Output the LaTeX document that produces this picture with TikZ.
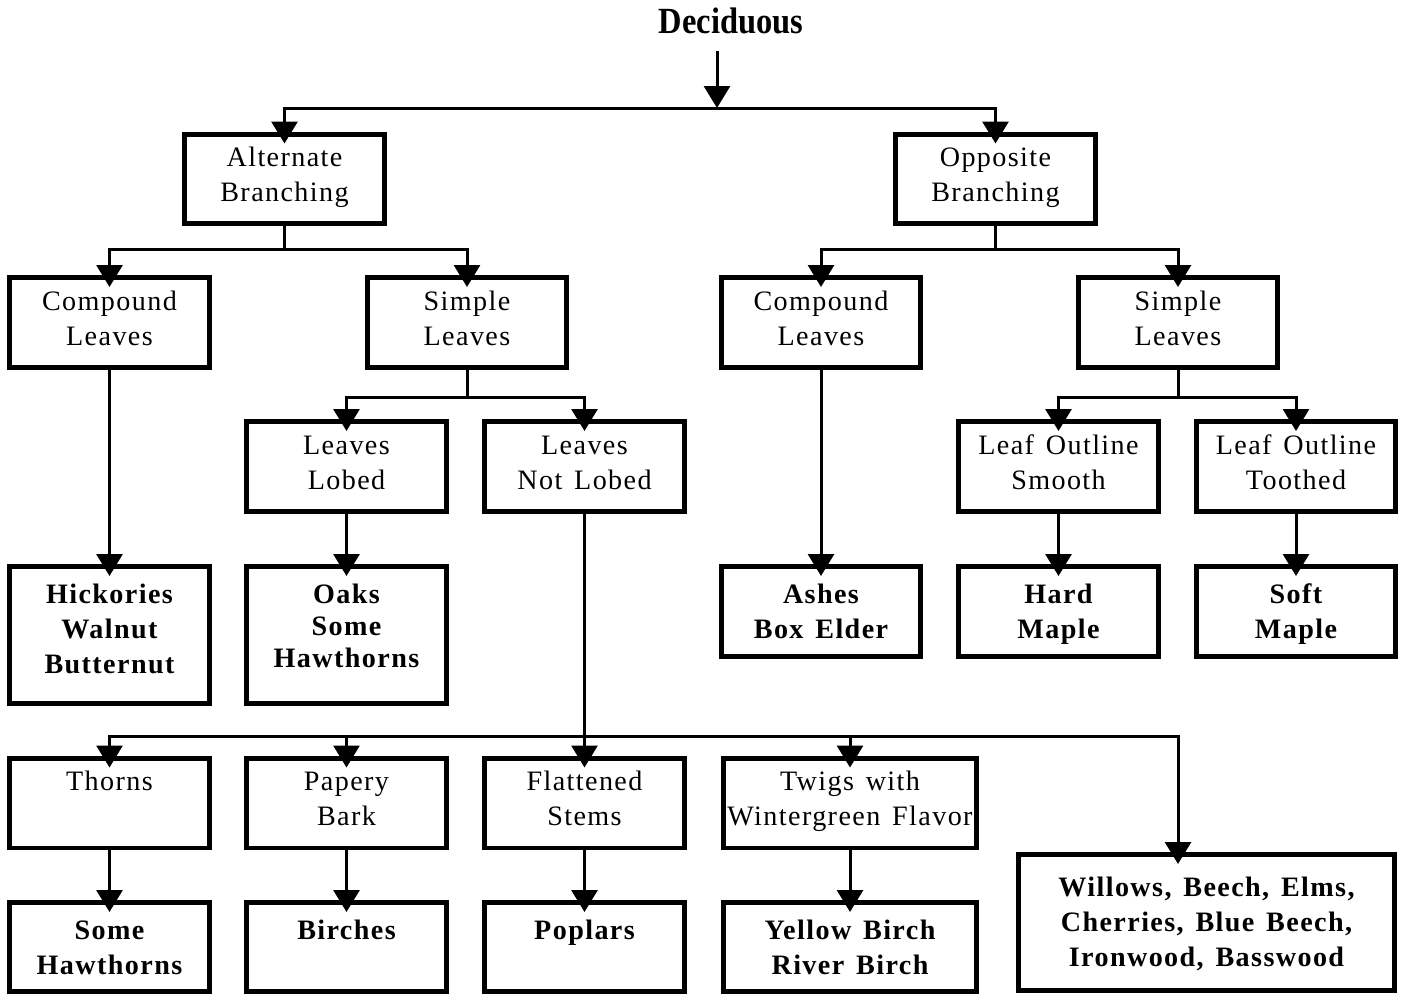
\documentclass[tikz,border=0pt]{standalone}
\usepackage{fontspec}
\usepackage{graphicx}
\setmainfont{Liberation Serif}
\newfontfamily\treefont[LetterSpace=5,WordSpace=1.4]{Liberation Serif}
\usetikzlibrary{arrows.meta}

% box contents: width, height, text (first line at a fixed depth)
\newcommand{\treebox}[3]{\parbox[t][#2][t]{#1}{\centering\rule{0pt}{0.65cm}#3}}
\newcommand{\namebox}[3]{\parbox[t][#2][t]{#1}{\centering\bfseries\rule{0pt}{0.74cm}#3}}

\tikzset{
  cell/.style={draw, line width=0.1cm, inner sep=0pt,
    font={\treefont\fontsize{16pt}{20pt}\selectfont}},
  link/.style={line width=0.06cm},
  arr/.style={link, -{Triangle[width=0.52cm,length=0.44cm]}, shorten >=-0.24cm},
}

\begin{document}
\begin{tikzpicture}[x=0.02cm, y=-0.02cm]
    \useasboundingbox (0,0) rectangle (1404,994);

    % title
    \node[font={\bfseries\fontsize{21pt}{24pt}\selectfont}, inner sep=0pt, anchor=base] (dec) at (731,33) {\scalebox{0.88}[1]{Deciduous}};
    \coordinate (top) at (717,108);

    % branching
    \node[cell] (alt) at (284.5,179) {\treebox{4cm}{1.8cm}{Alternate\\Branching}};
    \node[cell] (opp) at (995.5,179) {\treebox{4cm}{1.8cm}{Opposite\\Branching}};

    % leaves
    \node[cell] (cl) at (109.5,322.5) {\treebox{4cm}{1.8cm}{Compound\\Leaves}};
    \node[cell] (sl) at (467,322.5) {\treebox{4cm}{1.8cm}{Simple\\Leaves}};
    \node[cell] (cr) at (821,322.5) {\treebox{4cm}{1.8cm}{Compound\\Leaves}};
    \node[cell] (sr) at (1178,322.5) {\treebox{4cm}{1.8cm}{Simple\\Leaves}};

    % lobes and outlines
    \node[cell] (ll) at (346.5,466.5) {\treebox{4cm}{1.8cm}{Leaves\\Lobed}};
    \node[cell] (nl) at (584.5,466.5) {\treebox{4cm}{1.8cm}{Leaves\\Not Lobed}};
    \node[cell] (os) at (1058.5,466.5) {\treebox{4cm}{1.8cm}{Leaf Outline\\Smooth}};
    \node[cell] (ot) at (1296,466.5) {\treebox{4cm}{1.8cm}{Leaf Outline\\Toothed}};

    % trees
    \node[cell] (hi) at (109.5,635) {\namebox{4cm}{2.74cm}{Hickories\\Walnut\\Butternut}};
    \node[cell] (oa) at (346.5,635) {\namebox{4cm}{2.74cm}{Oaks\\[-1.7pt]Some\\[-1.7pt]Hawthorns}};
    \node[cell] (as) at (821,611.5) {\namebox{4cm}{1.8cm}{Ashes\\Box Elder}};
    \node[cell] (hm) at (1058.5,611.5) {\namebox{4cm}{1.8cm}{Hard\\Maple}};
    \node[cell] (sm) at (1296,611.5) {\namebox{4cm}{1.8cm}{Soft\\Maple}};

    % features
    \node[cell] (th) at (109.5,803) {\treebox{4cm}{1.8cm}{Thorns}};
    \node[cell] (pb) at (346.5,803) {\treebox{4cm}{1.8cm}{Papery\\Bark}};
    \node[cell] (fs) at (584.5,803) {\treebox{4cm}{1.8cm}{Flattened\\Stems}};
    \node[cell] (tw) at (850,803) {\treebox{5.06cm}{1.8cm}{Twigs with\\Wintergreen Flavor}};

    % trees
    \node[cell] (sh) at (109.5,947) {\namebox{4cm}{1.78cm}{Some\\Hawthorns}};
    \node[cell] (bi) at (346.5,947) {\namebox{4cm}{1.78cm}{Birches}};
    \node[cell] (po) at (584.5,947) {\namebox{4cm}{1.78cm}{Poplars}};
    \node[cell] (yb) at (850,947) {\namebox{5.06cm}{1.78cm}{Yellow Birch\\River Birch}};
    \node[cell] (wi) at (1206.5,922.5) {\namebox{7.52cm}{2.72cm}{\rule{0pt}{0.84cm}Willows, Beech, Elms,\\Cherries, Blue Beech,\\Ironwood, Basswood}};

    % connectors
    \draw[arr, shorten >=0pt, shorten <=0.34cm] (dec.south -| top) -- (top);
    \draw[arr] (top) -| (alt.north);
    \draw[arr] (top) -| (opp.north);

    \draw[arr] (alt.south) -- ++(0,23) coordinate (ab) -| (cl.north);
    \draw[arr] (ab) -| (sl.north);
    \draw[arr] (opp.south) -- ++(0,23) coordinate (ob) -| (cr.north);
    \draw[arr] (ob) -| (sr.north);

    \draw[arr] (sl.south) -- ++(0,28) coordinate (sb) -| (ll.north);
    \draw[arr] (sb) -| (nl.north);
    \draw[arr] (sr.south) -- ++(0,28) coordinate (rb) -| (os.north);
    \draw[arr] (rb) -| (ot.north);

    \draw[arr] (cl.south) -- (hi.north);
    \draw[arr] (ll.south) -- (oa.north);
    \draw[arr] (cr.south) -- (as.north);
    \draw[arr] (os.south) -- (hm.north);
    \draw[arr] (ot.south) -- (sm.north);

    \path (nl.south) ++(0,223) coordinate (nb);
    \draw[arr] (nl.south) -- (fs.north);
    \draw[arr] (nb) -| (th.north);
    \draw[arr] (nb) -| (pb.north);
    \draw[arr] (nb) -| (tw.north);
    \draw[arr] (nb) -| (wi.north -| sr.south);

    \draw[arr] (th.south) -- (sh.north);
    \draw[arr] (pb.south) -- (bi.north);
    \draw[arr] (fs.south) -- (po.north);
    \draw[arr] (tw.south) -- (yb.north);
\end{tikzpicture}
\end{document}
